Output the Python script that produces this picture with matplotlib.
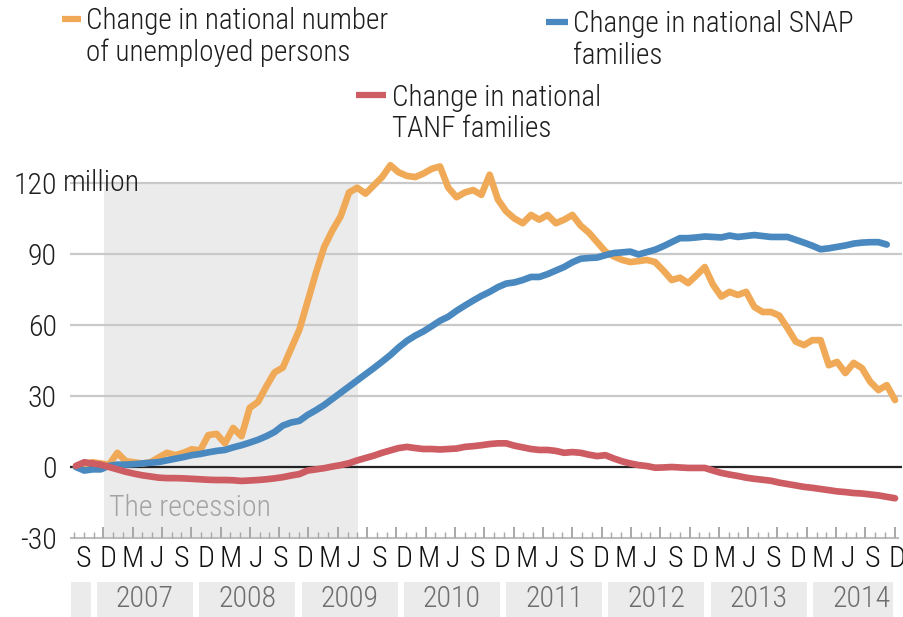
import matplotlib
matplotlib.use("Agg")
import matplotlib.pyplot as plt
import numpy as np
from matplotlib.lines import Line2D
from matplotlib.patches import Rectangle

plt.rcParams['font.family'] = ['Roboto Condensed', 'IBM Plex Sans Condensed', 'DejaVu Sans']
plt.rcParams['font.weight'] = 'light'

# ---------------- data (percent change, monthly Sep 2006 .. Dec 2014) ----------------
unemployed = [0, 1, 2, 1.5, 1, 6, 2.5, 2, 1.5, 2,
              4, 6, 5, 6, 7.5, 7, 13.5, 14, 10, 16.5,
              13, 25, 27.5, 34, 40, 42, 50, 58, 70, 82,
              93, 100, 106, 116, 118, 115.5, 119, 122.5, 127.5, 124.5,
              123, 122.5, 124, 126, 127, 118, 114, 116, 117, 115,
              123.5, 113, 108, 105, 103, 106.5, 104.5, 106.5, 103, 104.5,
              106.5, 102, 99, 95, 91, 89, 87.5, 86.6, 87, 87.5,
              86.6, 83, 79, 80, 77.7, 81, 84.5, 77, 72, 74,
              72.7, 74, 67.6, 65.5, 65.5, 64, 58.7, 53, 51.5, 53.6,
              53.6, 43, 44.4, 39.7, 44, 41.8, 36, 32.5, 34.6, 28.3]

snap = [0, -1.5, -1, -1, 0.5, 1, 1, 1.2, 1.5, 1.8,
        2.1, 2.8, 3.5, 4.2, 5, 5.5, 6.2, 6.8, 7.2, 8.3,
        9.2, 10.3, 11.5, 13, 14.8, 17.5, 18.8, 19.5, 22, 24,
        26.2, 28.8, 31.4, 34, 36.6, 39.2, 41.8, 44.5, 47.3, 50.5,
        53.3, 55.5, 57.3, 59.5, 61.8, 63.5, 66, 68.2, 70.3, 72.3,
        74, 76, 77.5, 78, 79, 80.3, 80.3, 81.5, 83, 84.5,
        86.5, 88, 88.3, 88.5, 89.5, 90.4, 90.7, 91, 89.8, 90.8,
        91.8, 93.3, 95, 96.7, 96.7, 97, 97.4, 97.2, 97, 97.8,
        97.2, 97.6, 98, 97.6, 97.2, 97.2, 97.2, 96, 94.8, 93.5,
        92, 92.4, 93, 93.6, 94.4, 94.8, 95, 95, 94]

tanf = [0.5, 2, 1.5, 1, 0, -1, -2, -2.8, -3.5, -4,
        -4.5, -4.7, -4.7, -4.8, -5, -5.2, -5.4, -5.5, -5.5, -5.6,
        -5.9, -5.7, -5.5, -5.2, -4.8, -4.3, -3.6, -3, -1.5, -1,
        -0.5, 0.2, 0.8, 1.6, 2.8, 3.8, 4.8, 6, 7, 8,
        8.5, 8, 7.6, 7.6, 7.4, 7.6, 7.8, 8.5, 8.8, 9.2,
        9.7, 10, 10, 9, 8.3, 7.6, 7.2, 7.2, 6.8, 6,
        6.3, 6, 5.2, 4.6, 5, 3.6, 2.4, 1.5, 0.8, 0.4,
        -0.3, -0.2, 0, -0.2, -0.4, -0.4, -0.4, -1.5, -2.5, -3.2,
        -3.8, -4.5, -5, -5.4, -5.8, -6.6, -7.2, -7.8, -8.4, -8.8,
        -9.3, -9.8, -10.3, -10.6, -11, -11.2, -11.6, -12, -12.6, -13.2]

quarter_labels = (list("SDMJ") * 9)[:34]
years = ["", "2007", "2008", "2009", "2010", "2011", "2012", "2013", "2014"]
y_ticks = [-30, 0, 30, 60, 90, 120]
y_ticklabels = ["-30", "0", "30", "60", "90", "120"]

series_names = ["Change in national number\nof unemployed persons",
                "Change in national SNAP\nfamilies",
                "Change in national\nTANF families"]

# ---------------- style ----------------
C_ORANGE = "#F0AA57"
C_BLUE = "#4A89BF"
C_RED = "#CD5C63"
C_SHADE = "#EBEBEB"
C_GRID = "#C9C9C9"
C_TEXT = "#1E1E1E"

W, H = 904, 617
fig = plt.figure(figsize=(W / 100, H / 100), dpi=100)

# axes geometry (pixels)
ax_l, ax_r, ax_b = 70, 902, 538
px_per_month = 8.273
x0_px = 76
px_per_unit = 71 / 30
ymin, ymax = -30, 135
ax_t = ax_b - (ymax - ymin) * px_per_unit

ax = fig.add_axes([ax_l / W, (H - ax_b) / H, (ax_r - ax_l) / W, (ax_b - ax_t) / H])
ax.set_xlim((ax_l - x0_px) / px_per_month, (ax_r - x0_px) / px_per_month)
ax.set_ylim(ymin, ymax)
for s in ax.spines.values():
    s.set_visible(False)

def m(px):
    return (px - x0_px) / px_per_month

def yd(py):
    return ymin + (ax_b - py) / px_per_unit

# recession shading
rec_start, rec_end = m(104), m(358)
ax.fill_between([rec_start, rec_end], -30, 120, color=C_SHADE, lw=0, zorder=0)
ax.text(m(109), yd(516), "The recession", color="#A3A3A3", fontsize=21.5,
        ha="left", va="baseline", zorder=1)

# grid lines
for v in [30, 60, 90, 120]:
    ax.axhline(v, color=C_GRID, lw=1.6, zorder=1)
ax.axhline(0, color="#222222", lw=1.6, zorder=1)
ax.plot([m(71), m(898)], [-30, -30], color="#BDBDBD", lw=1.5, zorder=1, clip_on=False)

# x ticks (decorative, from the reference)
tick_step_px = 9.77
for k in range(85):
    xp = 74 + tick_step_px * k
    tall = (k % 3 == 0) and k > 0
    h = 11 if tall else 6
    ax.plot([m(xp), m(xp)], [-30, -30 + h / px_per_unit], color="#A8A8A8",
            lw=1.4 if tall else 1.0, zorder=1, clip_on=False, solid_capstyle="butt")

# y ticks
ax.set_xticks([])
ax.set_yticks(y_ticks)
ax.set_yticklabels(y_ticklabels)
ax.tick_params(axis="y", length=0, pad=9.5, labelsize=21.5, labelcolor=C_TEXT)
ax.text(m(63), 120, "million", fontsize=21.5, color=C_TEXT, ha="left", va="center", zorder=2)

# series
ax.plot(np.arange(len(unemployed)), unemployed, color=C_ORANGE, lw=4.8,
        solid_capstyle="round", solid_joinstyle="round", zorder=3)
ax.plot(np.arange(len(snap)), snap, color=C_BLUE, lw=4.8,
        solid_capstyle="round", solid_joinstyle="round", zorder=4)
ax.plot(np.arange(len(tanf)), tanf, color=C_RED, lw=4.8,
        solid_capstyle="round", solid_joinstyle="round", zorder=5)

# quarter labels
for i, lab in enumerate(quarter_labels):
    xp = 83 + 24.67 * i
    ax.text(m(xp), yd(559), lab, fontsize=21.5, color="#111111", ha="center", va="center", clip_on=False)

# year boxes
box_step = 102.3
for i, yr in enumerate(years):
    bx0 = 97 + box_step * (i - 1)
    bx1 = bx0 + 96
    cx = (bx0 + bx1) / 2
    bx0c, bx1c = max(bx0, 71), min(bx1, 893)
    ax.add_patch(Rectangle((m(bx0c), yd(617)), m(bx1c) - m(bx0c), yd(582) - yd(617),
                           facecolor=C_SHADE, edgecolor="none", clip_on=False))
    if yr:
        ax.text(m(cx), yd(599), yr, fontsize=21.5, color="#6E6E6E", ha="center", va="center", clip_on=False)

# legend
def fx(px):
    return px / W

def fy(py):
    return 1 - py / H

legend = [
    (C_ORANGE, (62, 81, 19), (86, 29, 61), series_names[0]),
    (C_BLUE, (546, 568, 22), (573, 32, 64), series_names[1]),
    (C_RED, (356, 386, 95), (392, 106, 137), series_names[2]),
]
for col, (sx0, sx1, sy), (tx, b1, b2), name in legend:
    fig.add_artist(Line2D([fx(sx0), fx(sx1)], [fy(sy), fy(sy)], color=col, lw=4.5,
                          solid_capstyle="butt", transform=fig.transFigure))
    l1, l2 = name.split("\n")
    fig.text(fx(tx), fy(b1), l1, fontsize=21, color=C_TEXT, ha="left", va="baseline")
    fig.text(fx(tx), fy(b2), l2, fontsize=21, color=C_TEXT, ha="left", va="baseline")

fig.savefig("out.png", dpi=100)
